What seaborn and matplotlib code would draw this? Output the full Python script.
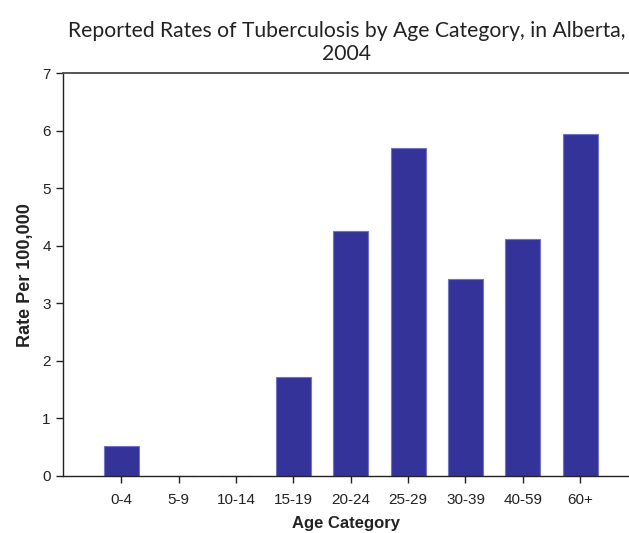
import matplotlib
matplotlib.use("Agg")
import matplotlib.pyplot as plt
import seaborn as sns
import pandas as pd

# Tuberculosis rates per 100,000 by age group, Alberta 2004
age_groups = ["0-4", "5-9", "10-14", "15-19", "20-24", "25-29", "30-39", "40-59", "60+"]
rates = [0.52, 0.0, 0.0, 1.72, 4.26, 5.70, 3.43, 4.12, 5.95]
y_ticks = [0, 1, 2, 3, 4, 5, 6, 7]

df = pd.DataFrame({"age": age_groups, "rate": rates})

sns.set_theme(style="white")
plt.rcParams["font.family"] = ["Liberation Sans", "DejaVu Sans"]

fig = plt.figure(figsize=(6.29, 5.33), dpi=100)
ax = fig.add_axes([0.1006, 0.107, 0.8994, 0.7555])

sns.barplot(data=df, x="age", y="rate", order=age_groups, color="#333399",
            saturation=1, width=0.61, edgecolor="#7474c4", linewidth=0.8, ax=ax)

ax.set_xlim(-1.01, 8.85)
ax.set_ylim(0, 7)
ax.set_yticks(y_ticks)
ax.set_yticklabels([str(t) for t in y_ticks])

for side in ["left", "bottom"]:
    ax.spines[side].set_color("#222222")
    ax.spines[side].set_linewidth(1.0)
ax.spines["top"].set_color("#555555")
ax.spines["top"].set_linewidth(1.4)
ax.spines["right"].set_visible(False)

ax.tick_params(axis="both", which="major", direction="out", length=5, width=1,
               color="#222222", labelsize=11, labelcolor="#222222", pad=4)
ax.tick_params(axis="x", pad=7)
ax.tick_params(left=True, bottom=True)

ax.set_xlabel("Age Category", fontsize=12, fontweight="bold", color="#222222", labelpad=7)
ax.set_ylabel("Rate Per 100,000", fontsize=13, fontweight="bold", color="#222222", labelpad=6)

fig.text(0.551, 0.879, "Reported Rates of Tuberculosis by Age Category, in Alberta,\n2004",
         ha="center", va="bottom", fontsize=15.2, family=["Lato", "DejaVu Sans"],
         color="#222222", linespacing=1.2)

fig.savefig("out.png", dpi=100, facecolor="white")
